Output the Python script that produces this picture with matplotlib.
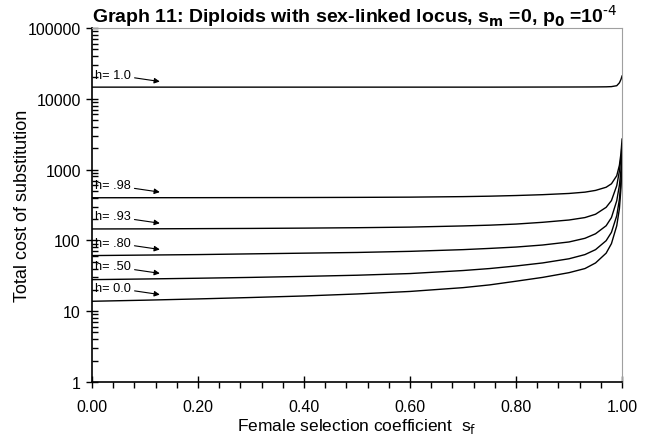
import matplotlib
matplotlib.use("Agg")
import matplotlib.pyplot as plt
from matplotlib.ticker import MultipleLocator, LogLocator, NullFormatter

plt.rcParams['font.family'] = ['Liberation Sans', 'DejaVu Sans']

# values
s = [0.0, 0.1, 0.2, 0.3, 0.4, 0.5, 0.6, 0.7, 0.75, 0.8, 0.85, 0.9, 0.93,
     0.95, 0.97, 0.98, 0.99, 0.995, 0.998, 1.0]
cost_h000 = [13.8, 14.3, 14.9, 15.6, 16.4, 17.5, 19.0, 21.5, 23.5, 26.5, 30, 35, 40,
             48, 66, 90, 161, 280, 550, 1200]
cost_h050 = [27.9, 28.5, 29.2, 30.0, 31.0, 32.2, 34, 37.5, 40, 43.5, 48, 55, 63,
             74, 99, 130, 223, 380, 700, 1500]
cost_h080 = [61, 62, 63, 64.5, 66, 67.5, 70, 74, 77, 80.5, 86, 95, 107,
             124, 161, 210, 363, 600, 1000, 1900]
cost_h093 = [145, 145.5, 146.5, 147.5, 149, 151, 154, 160, 164, 170, 180, 194, 210,
             234, 293, 365, 593, 950, 1500, 2300]
cost_h098 = [400, 400.5, 401, 402, 403, 405, 408, 415, 421, 430, 442, 460, 480,
             508, 563, 630, 820, 1150, 1700, 2700]
cost_h100 = [14600, 14600, 14600, 14600, 14600, 14600, 14600, 14600, 14600, 14620, 14640, 14660, 14680,
             14700, 14750, 14850, 15300, 16800, 18800, 21000]

curves = [
    ("h= 1.0", cost_h100),
    ("h= .98", cost_h098),
    ("h= .93", cost_h093),
    ("h= .80", cost_h080),
    ("h= .50", cost_h050),
    ("h= 0.0", cost_h000),
]

fig = plt.figure(figsize=(6.5, 4.39), dpi=100)
ax = fig.add_axes([0.1415, 0.1276, 0.8155, 0.8064])

for label, ys in curves:
    ax.plot(s, ys, color='black', lw=1.0)
    y0 = ys[1]
    ax.annotate(label, xy=(0.128, y0 * 1.2), xytext=(-47, 5),
                textcoords='offset points', ha='left', va='center', fontsize=9.2,
                arrowprops=dict(arrowstyle='-|>', color='black', lw=0.8,
                                mutation_scale=8, shrinkA=1, shrinkB=0))

ax.set_yscale('log')
ax.set_xlim(0, 1)
ax.set_ylim(1, 100000)
ax.xaxis.set_major_locator(MultipleLocator(0.2))
ax.xaxis.set_minor_locator(MultipleLocator(0.04))
ax.xaxis.set_major_formatter(plt.FuncFormatter(lambda v, p: "%.2f" % v))
ax.yaxis.set_major_locator(LogLocator(base=10))
ax.yaxis.set_minor_locator(LogLocator(base=10, subs=range(2, 10)))
ax.yaxis.set_minor_formatter(NullFormatter())
ax.yaxis.set_major_formatter(plt.FuncFormatter(lambda v, p: "%d" % round(v)))

ax.tick_params(axis='both', which='major', direction='inout', length=8, width=1,
               labelsize=11.5)
ax.tick_params(axis='x', which='major', pad=8)
ax.tick_params(axis='y', which='major', pad=4)
ax.tick_params(axis='x', which='minor', direction='out', length=4, width=1)
ax.tick_params(axis='y', which='minor', direction='in', length=4, width=1)

for side in ['top', 'right']:
    ax.spines[side].set_color('#a0a0a0')
for side in ['left', 'bottom']:
    ax.spines[side].set_linewidth(1.2)

ax.set_xlabel("Female selection coefficient  s$_{\\rm f}$", fontsize=12.5, labelpad=2)
ax.set_ylabel("Total cost of substitution", fontsize=13)
ax.yaxis.set_label_coords(-0.115, 0.5)
ax.set_title("Graph 11: Diploids with sex-linked locus, s$_{\\mathbf{m}}$ =0, "
             "p$_{\\mathbf{0}}$ =10$^{\\text{-4}}$",
             loc='left', fontsize=14, fontweight='bold', pad=0)

fig.savefig("out.png", dpi=100)
